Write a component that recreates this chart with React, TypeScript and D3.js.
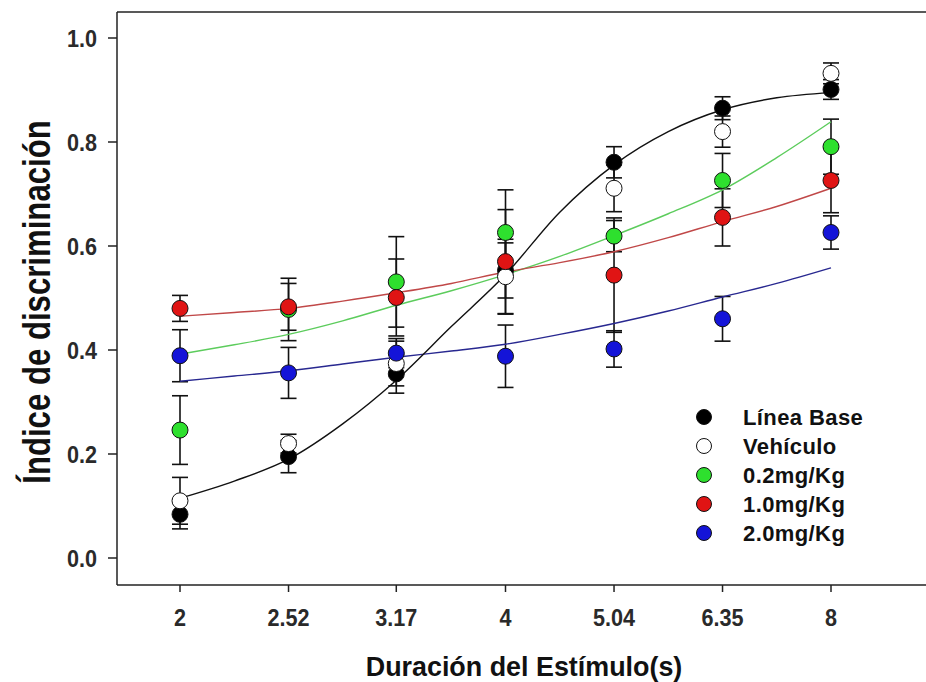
import React from "react";
import * as d3 from "d3";

// stimulus durations (s), plotted on a log2 axis
const stimulus = [2, 2.52, 3.17, 4, 5.04, 6.35, 8];
const xTickLabels = ["2", "2.52", "3.17", "4", "5.04", "6.35", "8"];
const yTicks = [0, 0.2, 0.4, 0.6, 0.8, 1.0];

// mean discrimination index per group
const lineaBase = [0.084, 0.195, 0.354, 0.553, 0.761, 0.865, 0.901];
const lineaBaseErr = [0.028, 0.031, 0.037, 0.053, 0.03, 0.022, 0.019];
const vehiculo = [0.11, 0.22, 0.374, 0.541, 0.711, 0.82, 0.932];
const vehiculoErr = [0.045, 0.018, 0.043, 0.072, 0.045, 0.03, 0.02];
const dose02 = [0.246, 0.478, 0.531, 0.626, 0.619, 0.726, 0.791];
const dose02Err = [0.066, 0.06, 0.087, 0.082, 0.03, 0.052, 0.053];
const dose10 = [0.48, 0.483, 0.501, 0.57, 0.544, 0.655, 0.726];
const dose10Err = [0.025, 0.045, 0.074, 0.1, 0.11, 0.055, 0.062];
const dose20 = [0.389, 0.356, 0.394, 0.388, 0.402, 0.46, 0.626];
const dose20Err = [0.05, 0.049, 0.028, 0.06, 0.035, 0.043, 0.032];

// fitted curves
const fitX = [2, 2.245, 2.52, 2.828, 3.17, 3.564, 4, 4.49, 5.04, 5.657, 6.35, 7.127, 8];
const fitBase = [0.115, 0.148, 0.19, 0.258, 0.342, 0.445, 0.545, 0.665, 0.756, 0.82, 0.862, 0.885, 0.895];
const fit02 = [0.392, 0.41, 0.43, 0.456, 0.486, 0.514, 0.545, 0.58, 0.62, 0.662, 0.708, 0.77, 0.839];
const fit10 = [0.465, 0.472, 0.48, 0.494, 0.51, 0.528, 0.55, 0.568, 0.589, 0.616, 0.647, 0.676, 0.711];
const fit20 = [0.34, 0.35, 0.36, 0.373, 0.386, 0.398, 0.411, 0.43, 0.451, 0.475, 0.502, 0.528, 0.558];

const groups = [
  { name: "Línea Base", values: lineaBase, err: lineaBaseErr, fill: "#000000" },
  { name: "Vehículo", values: vehiculo, err: vehiculoErr, fill: "#ffffff" },
  { name: "0.2mg/Kg", values: dose02, err: dose02Err, fill: "#2ee02e" },
  { name: "1.0mg/Kg", values: dose10, err: dose10Err, fill: "#e01414" },
  { name: "2.0mg/Kg", values: dose20, err: dose20Err, fill: "#1414d8" },
];

const fits = [
  { values: fit02, color: "#5ccc5c" },
  { values: fit10, color: "#c04848" },
  { values: fit20, color: "#282890" },
  { values: fitBase, color: "#111111" },
];

const FONT = "'Liberation Sans', Arial, sans-serif";

const App = () => {
  const width = 926;
  const height = 682;
  const frame = { left: 117, top: 12, right: 945, bottom: 585 };

  const xScale = d3.scaleLog().base(2).domain([2, 8]).range([180, 831]);
  const yScale = d3.scaleLinear().domain([0, 1]).range([558, 38]);

  const line = d3
    .line<number>()
    .x((_, i) => xScale(fitX[i]))
    .y((d) => yScale(d))
    .curve(d3.curveMonotoneX);

  const cap = 8;
  const r = 8;

  return (
    <svg
      width={width}
      height={height}
      style={{ position: "absolute", left: 0, top: 0, background: "#fff" }}
      fontFamily={FONT}
    >
      {/* frame */}
      <line x1={frame.left} y1={frame.top} x2={frame.right} y2={frame.top} stroke="#222" strokeWidth={1.5} />
      <line x1={frame.left} y1={frame.top} x2={frame.left} y2={frame.bottom} stroke="#222" strokeWidth={1.5} />
      <line x1={frame.left} y1={frame.bottom} x2={frame.right} y2={frame.bottom} stroke="#222" strokeWidth={1.5} />

      {/* y axis */}
      {yTicks.map((t) => (
        <g key={t} transform={`translate(0,${yScale(t)})`}>
          <line x1={frame.left - 9} x2={frame.left} stroke="#222" strokeWidth={1.5} />
          <text
            transform="translate(97,0) scale(0.9,1)"
            dy="0.36em"
            textAnchor="end"
            fontSize={24}
            fontWeight="bold"
            fill="#2a2a2a"
          >
            {t.toFixed(1)}
          </text>
        </g>
      ))}

      {/* x axis */}
      {stimulus.map((s, i) => (
        <g key={s} transform={`translate(${xScale(s)},0)`}>
          <line y1={frame.bottom} y2={frame.bottom + 7} stroke="#222" strokeWidth={1.5} />
          <text
            transform="translate(0,626) scale(0.9,1)"
            textAnchor="middle"
            fontSize={24}
            fontWeight="bold"
            fill="#2a2a2a"
          >
            {xTickLabels[i]}
          </text>
        </g>
      ))}

      {/* axis titles */}
      <text
        transform="translate(524,676) scale(0.96,1)"
        textAnchor="middle"
        fontSize={28}
        fontWeight="bold"
        fill="#111"
      >
        Duración del Estímulo(s)
      </text>
      <text
        transform="translate(50,302) rotate(-90) scale(0.82,1)"
        textAnchor="middle"
        fontSize={38}
        fontWeight="bold"
        fill="#111"
      >
        Índice de discriminación
      </text>

      {/* error bars */}
      {groups.map((g) =>
        g.values.map((v, i) => {
          const x = xScale(stimulus[i]);
          const y0 = yScale(v - g.err[i]);
          const y1 = yScale(v + g.err[i]);
          return (
            <g key={`${g.name}-${i}`} stroke="#111" strokeWidth={1.6}>
              <line x1={x} x2={x} y1={y0} y2={y1} />
              <line x1={x - cap} x2={x + cap} y1={y0} y2={y0} />
              <line x1={x - cap} x2={x + cap} y1={y1} y2={y1} />
            </g>
          );
        })
      )}

      {/* fitted curves */}
      {fits.map((f, i) => (
        <path key={i} d={line(f.values) || ""} fill="none" stroke={f.color} strokeWidth={1.4} />
      ))}

      {/* markers */}
      {groups.map((g) =>
        g.values.map((v, i) => (
          <circle
            key={`${g.name}-m-${i}`}
            cx={xScale(stimulus[i])}
            cy={yScale(v)}
            r={r}
            fill={g.fill}
            stroke="#111"
            strokeWidth={1}
          />
        ))
      )}

      {/* legend */}
      {groups.map((g, i) => (
        <g key={`leg-${g.name}`} transform={`translate(704,${417 + i * 29})`}>
          <circle r={7.5} fill={g.fill} stroke="#111" strokeWidth={1} />
          <text x={39} dy="0.36em" fontSize={22} fontWeight="bold" letterSpacing={0.4} fill="#111">
            {g.name}
          </text>
        </g>
      ))}
    </svg>
  );
};

export default App;
